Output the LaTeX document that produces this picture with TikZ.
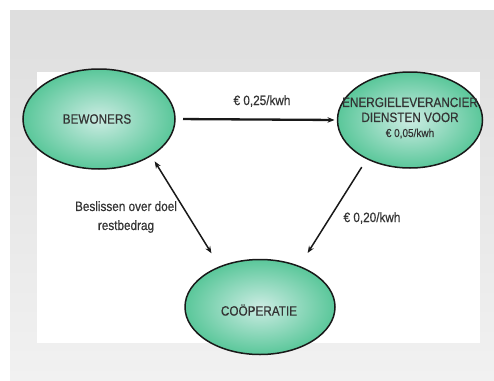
\documentclass[tikz,border=0pt]{standalone}
\usepackage{fontspec}
\setmainfont{Liberation Sans}[FakeBold=0.5]
\usetikzlibrary{arrows.meta,shapes.geometric}
\definecolor{nodeout}{HTML}{5AC79A}
\definecolor{nodein}{HTML}{CCECE3}
\definecolor{txt}{HTML}{333333}
\definecolor{bgtop}{HTML}{DEDEDE}
\definecolor{bgbot}{HTML}{F1F1F1}
\newcommand{\cnd}[1]{\scalebox{0.87}[1]{#1}}
\begin{document}
\begin{tikzpicture}[x=1pt,y=-1pt,
  bubble/.style={ellipse, draw=black!90, line width=1.5pt, inner sep=0pt, outer sep=0pt,
                 inner color=nodein, outer color=nodeout},
  lbl/.style={font=\fontsize{13.5}{15}\selectfont, text=txt, inner sep=0pt},
  conn/.style={draw=black!90, line width=1.5pt, -{Stealth[length=7pt,width=5.5pt]}}]
% background
\fill[white] (0,0) rectangle (494,380);
\shade[top color=bgtop, bottom color=bgbot] (10,10) rectangle (494,380);
\fill[white] (37,72) rectangle (480,343);
\path[use as bounding box] (0,0) rectangle (494,380);
% ellipses
\node[bubble, minimum width=152pt, minimum height=100pt] (bew) at (99,119) {};
\node[bubble, minimum width=145pt, minimum height=96pt] (ener) at (410,120) {};
\node[bubble, minimum width=150pt, minimum height=95pt] (coop) at (260,307) {};
% node texts
\node[lbl] (bewt) at (97,119) {\cnd{BEWONERS}};
\node[lbl, align=center, font=\fontsize{13.5}{15}\selectfont] (enert) at (410,118)
  {\cnd{ENERGIELEVERANCIER}\\\cnd{DIENSTEN VOOR}\\{\fontsize{11.5}{15}\selectfont\cnd{€ 0,05/kwh}}};
\node[lbl] (coopt) at (259,310) {\cnd{COÖPERATIE}};
% connector labels
\node[lbl] (l1) at (262,101) {\cnd{€ 0,25/kwh}};
\node[lbl, align=center, font=\fontsize{13.5}{19}\selectfont] (l2) at (126,217) {\cnd{Beslissen over doel}\\\cnd{restbedrag}};
\node[lbl] (l3) at (372,218) {\cnd{€ 0,20/kwh}};
% connectors
\draw[conn, line width=2.3pt, shorten <=8pt, shorten >=3pt] (bew.east) -- (ener.west);
\draw[conn, {Stealth[length=7pt,width=5.5pt]}-{Stealth[length=7pt,width=5.5pt]}, shorten <=7pt, shorten >=16pt] (bew.-35) -- (coop.135);
\draw[conn, shorten <=10pt, shorten >=16pt] (ener.222) -- (coop.46.5);
\end{tikzpicture}
\end{document}
